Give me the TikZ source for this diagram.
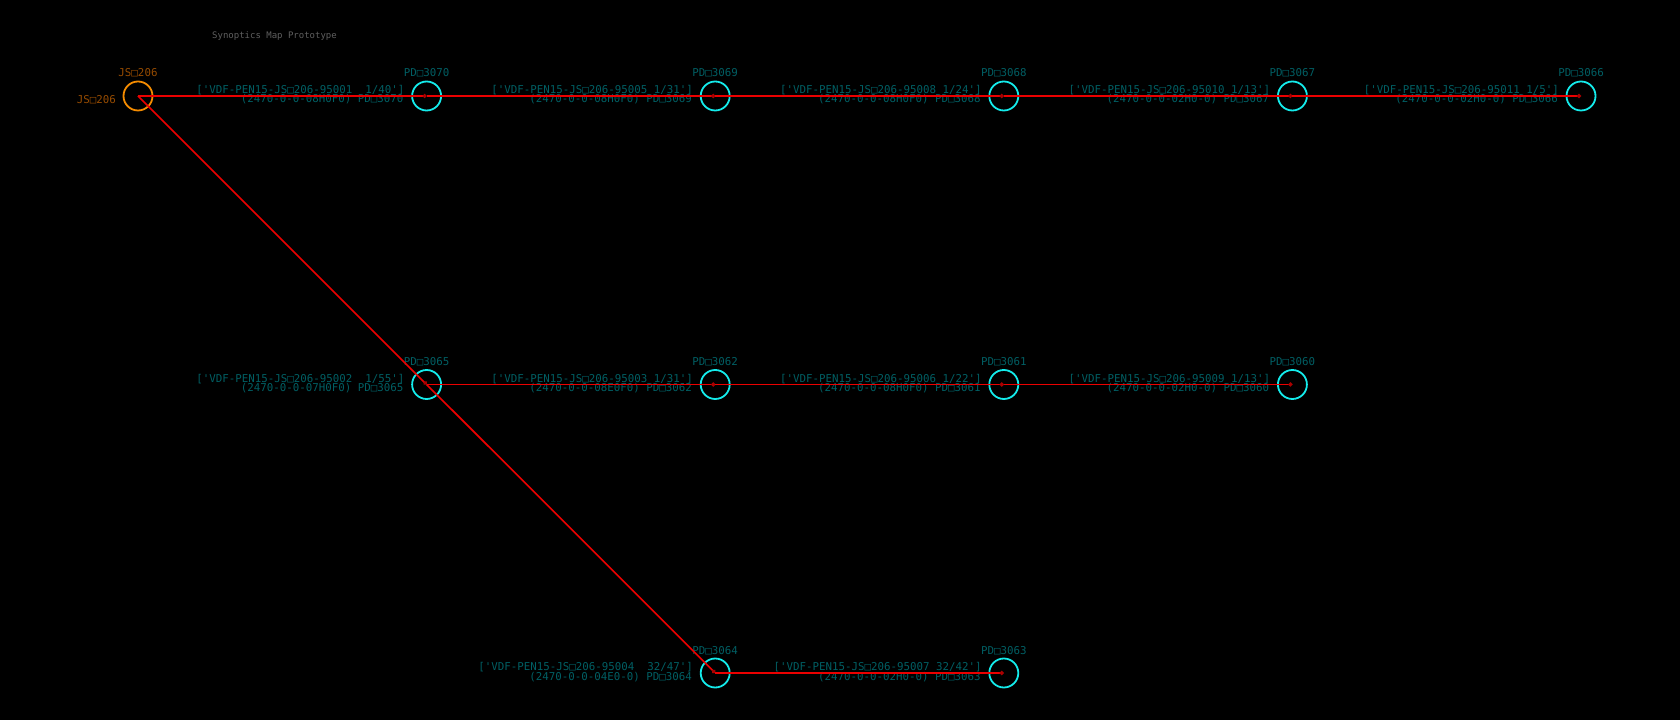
\documentclass[tikz,border=0pt]{standalone}
\usepackage{fontspec}
\setmonofont{DejaVu Sans Mono}
\usepackage{tikz}
\usetikzlibrary{arrows.meta, positioning}
\definecolor{pddcyan}{RGB}{20,235,235}
\definecolor{jsdorange}{RGB}{245,140,0}
\definecolor{wirered}{RGB}{235,0,0}
\definecolor{dotred}{RGB}{170,0,0}
\definecolor{lbltext}{RGB}{0,95,100}
\definecolor{jsdtext}{RGB}{150,75,0}
\definecolor{titlegray}{RGB}{95,95,95}

% one field device: circle, id above, pen and tag text on its left
\newcommand{\pddnode}[6]{%
  \node[pdd] (#1) at (#2,#3) {};
  \node[idlbl] (#1-id) at ([yshift=19pt]#1.center) {PD□#4};
  \node[penlbl] (#1-pen) at ([shift={(-22pt,2.4pt)}]#1.center) {#5};
  \node[penlbl] (#1-tag) at ([shift={(-23pt,-7pt)}]#1.center) {(2470-0-0-0#6) PD□#4};
}

\begin{document}
\begin{tikzpicture}[x=1pt, y=1pt,
    every node/.style={font=\ttfamily\fontsize{10.8}{12}\selectfont, inner sep=0pt},
    pdd/.style={circle, draw=pddcyan, line width=1.8pt, minimum size=29pt},
    jsd/.style={pdd, draw=jsdorange},
    idlbl/.style={text=lbltext, anchor=base},
    penlbl/.style={text=lbltext, anchor=base east},
    wire/.style={draw=wirered, line width=1.6pt, -{Circle[length=4pt, color=dotred]}}
  ]
    \useasboundingbox (0,0) rectangle (1680,720);
    \fill[black] (0,0) rectangle (1680,720);

    \node[font=\ttfamily\fontsize{9}{10}\selectfont, text=titlegray, anchor=base west]
      (title) at (212,681) {Synoptics Map Prototype};

    % junction box
    \node[jsd] (j206) at (138,624) {};
    \node[idlbl, text=jsdtext] (j206-id) at ([yshift=19pt]j206.center) {JS□206};
    \node[penlbl, text=jsdtext] (j206-tag) at ([shift={(-22pt,-8pt)}]j206.center) {JS□206};

    % top row
    \pddnode{p3070}{426.6}{624}{3070}{['VDF-PEN15-JS□206-95001\ \ 1/40']}{8H0F0}
    \pddnode{p3069}{715.2}{624}{3069}{['VDF-PEN15-JS□206-95005 1/31']}{8H0F0}
    \pddnode{p3068}{1003.8}{624}{3068}{['VDF-PEN15-JS□206-95008 1/24']}{8H0F0}
    \pddnode{p3067}{1292.4}{624}{3067}{['VDF-PEN15-JS□206-95010 1/13']}{2H0-0}
    \pddnode{p3066}{1581}{624}{3066}{['VDF-PEN15-JS□206-95011 1/5']}{2H0-0}
    % middle row
    \pddnode{p3065}{426.6}{335.5}{3065}{['VDF-PEN15-JS□206-95002\ \ 1/55']}{7H0F0}
    \pddnode{p3062}{715.2}{335.5}{3062}{['VDF-PEN15-JS□206-95003 1/31']}{8E0F0}
    \pddnode{p3061}{1003.8}{335.5}{3061}{['VDF-PEN15-JS□206-95006 1/22']}{8H0F0}
    \pddnode{p3060}{1292.4}{335.5}{3060}{['VDF-PEN15-JS□206-95009 1/13']}{2H0-0}
    % bottom row
    \pddnode{p3064}{715.2}{47}{3064}{['VDF-PEN15-JS□206-95004\ \ 32/47']}{4E0-0}
    \pddnode{p3063}{1003.8}{47}{3063}{['VDF-PEN15-JS□206-95007 32/42']}{2H0-0}

    \draw[wire] (j206.center)  -- (p3070.center);
    \draw[wire] (p3070.center) -- (p3069.center);
    \draw[wire] (p3069.center) -- (p3068.center);
    \draw[wire] (p3068.center) -- (p3067.center);
    \draw[wire] (p3067.center) -- (p3066.center);
    \draw[wire] (j206.center)  -- (p3065.center);
    \draw[wire] (p3065.center) -- (p3062.center);
    \draw[wire] (p3062.center) -- (p3061.center);
    \draw[wire] (p3061.center) -- (p3060.center);
    \draw[wire] (p3065.center) -- (p3064.center);
    \draw[wire] (p3064.center) -- (p3063.center);
  \end{tikzpicture}
\end{document}
